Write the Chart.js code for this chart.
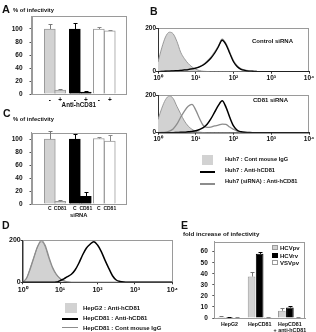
<!DOCTYPE html>
<html>
<head>
<meta charset="utf-8">
<script src="https://cdn.jsdelivr.net/npm/chart.js@4.4.0/dist/chart.umd.min.js"></script>
<style>
  html, body { margin: 0; padding: 0; background: #fff; }
  #fig { position: relative; width: 316px; height: 332px; overflow: hidden;
         font-family: "Liberation Sans", Arial, sans-serif; color: #111; }
  #fig canvas { position: absolute; }
  .txt { position: absolute; white-space: nowrap; line-height: 1; }
  .sw { position: absolute; box-sizing: border-box; }
</style>
</head>
<body>
<div id="fig">
  <canvas id="chartA" width="130" height="112" style="left:0;top:0"></canvas>
  <canvas id="chartC" width="130" height="112" style="left:0;top:110px"></canvas>
  <canvas id="chartB1" width="176" height="66" style="left:140px;top:20px"></canvas>
  <canvas id="chartB2" width="176" height="62" style="left:140px;top:85px"></canvas>
  <canvas id="chartD" width="180" height="70" style="left:0;top:230px"></canvas>
  <canvas id="chartE" width="131" height="102" style="left:185px;top:230px"></canvas>
</div>
<script>
// ---------- data ----------
// A: % of infectivity, without (-) / with (+) anti-hCD81
const labelsA = ['-', '+', '-', '+', '-', '+'];
const valuesA = [100, 6, 100, 3, 100, 97];
const errorsA = [7, 1.5, 9, 1, 3.5, 1.5];

// C: % of infectivity after control (C) or CD81 siRNA
const labelsC = ['C', 'CD81', 'C', 'CD81', 'C', 'CD81'];
const valuesC = [100, 4, 100, 12, 101, 97];
const errorsC = [13, 1.5, 8, 6, 2, 9];

// B / D: flow cytometry histograms, counts per fluorescence channel
const channels = [1, 1.26, 1.58, 2, 2.51, 3.16, 3.98, 5.01, 6.31, 7.94,
  10, 12.6, 15.8, 20, 25.1, 31.6, 39.8, 50.1, 63.1, 79.4,
  100, 126, 158, 200, 251, 316, 398, 501, 631, 794, 1000, 10000];
const decadeLabels = ['10⁰', '10¹', '10²', '10³', '10⁴'];

// B top: Control siRNA
const ctrlIgG   = [45, 110, 160, 182, 175, 140, 90, 60, 38, 22, 12, 5, 2, 1, 0, 0, 0, 0, 0, 0, 0, 0, 0, 0, 0, 0, 0, 0, 0, 0, 0, 0];
const ctrlAnti  = [0, 1, 2, 3, 4, 5, 6, 8, 10, 13, 17, 22, 31, 45, 62, 85, 115, 145, 125, 85, 46, 23, 11, 6, 3, 2, 1, 0, 0, 0, 0, 0];
const ctrlSiAnti = [0, 1, 2, 3, 4, 5, 6, 8, 11, 14, 18, 24, 33, 48, 66, 90, 118, 150, 130, 90, 50, 26, 13, 7, 4, 2, 1, 0, 0, 0, 0, 0];
// B bottom: CD81 siRNA
const kdIgG    = [70, 130, 175, 195, 182, 140, 100, 62, 35, 18, 8, 3, 1, 0, 0, 0, 0, 0, 0, 0, 0, 0, 0, 0, 0, 0, 0, 0, 0, 0, 0, 0];
const kdAnti   = [0, 0, 0, 0, 0, 1, 2, 3, 5, 7, 10, 17, 27, 45, 73, 109, 145, 169, 136, 82, 36, 13, 5, 2, 1, 0, 0, 0, 0, 0, 0, 0];
const kdSiAnti = [0, 1, 3, 8, 20, 45, 82, 115, 140, 150, 120, 75, 38, 28, 30, 36, 40, 46, 44, 30, 18, 8, 3, 1, 0, 0, 0, 0, 0, 0, 0, 0];

// D: HepG2 vs HepCD81
const hepG2Anti   = [3, 20, 67, 121, 168, 192, 168, 113, 66, 35, 16, 6, 2, 0, 0, 0, 0, 0, 0, 0, 0, 0, 0, 0, 0, 0, 0, 0, 0, 0, 0, 0];
const hepCD81Anti = [0, 0, 0, 0, 0, 0, 0, 0, 0, 1, 8, 16, 27, 38, 58, 90, 129, 161, 180, 192, 176, 145, 105, 66, 31, 11, 4, 1, 0, 0, 0, 0];
const hepCD81IgG  = [2, 18, 62, 118, 170, 198, 175, 120, 70, 38, 18, 7, 2, 0, 0, 0, 0, 0, 0, 0, 0, 0, 0, 0, 0, 0, 0, 0, 0, 0, 0, 0];

// E: fold increase of infectivity
const cellsE = ['HepG2', 'HepCD81', ['HepCD81', '+ anti-hCD81']];
const hcvpv = [1, 37.5, 6.5];
const hcvrv = [0.8, 58, 9.5];
const vsvpv = [0.5, 0.8, 0.7];
const hcvpvErr = [0.5, 4.5, 2.5];
const hcvrvErr = [0.3, 2, 1.5];
const vsvpvErr = [0.2, 0.2, 0.2];

// ---------- styles ----------
const GREY_FILL = '#d2d2d2';
const GREY_EDGE = '#9a9a9a';
const GREY_LINE = '#8c8c8c';
const barPos = [1, 2, 3.4, 4.45, 5.7, 6.75];   // x layout of the paired bars (A, C)
const barFill = [GREY_FILL, GREY_FILL, '#000', '#000', '#fff', '#fff'];
const barEdge = [GREY_EDGE, GREY_EDGE, '#000', '#000', GREY_EDGE, GREY_EDGE];
const errCol  = ['#777', '#777', '#000', '#000', '#888', '#888'];

Chart.defaults.font.family = '"Liberation Sans", Arial, sans-serif';
Chart.defaults.font.size = 6.5;
Chart.defaults.font.weight = 'bold';
Chart.defaults.color = '#111';

// grey box round the plot area
const framePlugin = {
  id: 'frame',
  beforeDraw(chart) {
    const { left, top, right, bottom } = chart.chartArea;
    const ctx = chart.ctx;
    ctx.save();
    ctx.strokeStyle = '#9a9a9a';
    ctx.lineWidth = 1;
    ctx.strokeRect(Math.round(left) + 0.5, Math.round(top) + 0.5,
      Math.round(right - left) - 1, Math.round(bottom - top));
    ctx.restore();
  }
};

// upward error bars, values kept on the dataset
const errorBarPlugin = {
  id: 'errorBars',
  afterDatasetsDraw(chart) {
    const ctx = chart.ctx;
    const y = chart.scales.y;
    ctx.save();
    ctx.lineWidth = 1;
    chart.data.datasets.forEach((ds, di) => {
      if (!ds.errors) return;
      chart.getDatasetMeta(di).data.forEach((bar, i) => {
        const raw = ds.data[i];
        const v = typeof raw === 'object' ? raw.y : raw;
        const yTop = Math.round(y.getPixelForValue(v + ds.errors[i])) + 0.5;
        const x = Math.round(bar.x) + 0.5;
        ctx.strokeStyle = Array.isArray(ds.errorColors) ? ds.errorColors[i] : ds.errorColors;
        ctx.beginPath();
        ctx.moveTo(x, bar.y);
        ctx.lineTo(x, yTop);
        ctx.moveTo(x - 2, yTop);
        ctx.lineTo(x + 2, yTop);
        ctx.stroke();
      });
    });
    ctx.restore();
  }
};

function pctChart(id, labels, values, errors, title, padTop, ymax, tickSize, titleSize) {
  return new Chart(document.getElementById(id), {
    type: 'bar',
    data: {
      datasets: [{
        data: values.map((v, i) => ({ x: barPos[i], y: v })),
        backgroundColor: barFill,
        borderColor: barEdge,
        borderWidth: 1,
        barThickness: 11,
        errors: errors,
        errorColors: errCol,
      }],
    },
    options: {
      animation: false,
      responsive: false,
      layout: { padding: { top: padTop, right: 4, left: 0, bottom: 0 } },
      plugins: { legend: { display: false }, tooltip: { enabled: false } },
      scales: {
        x: {
          type: 'linear', min: 0, max: 7.55,
          grid: { display: false, drawTicks: false },
          border: { color: '#9a9a9a' },
          afterBuildTicks: s => { s.ticks = barPos.map(v => ({ value: v })); },
          afterFit: s => { s.height = 18; },
          ticks: { autoSkip: false, maxRotation: 0, padding: 2, font: { size: tickSize },
                   callback: (v, i) => labels[i] },
          title: { display: true, text: title, font: { size: titleSize, weight: 'bold' }, padding: { top: 0, bottom: 3 } },
        },
        y: {
          min: 0, max: ymax,
          grid: { drawOnChartArea: false, tickLength: 2, color: '#555' },
          border: { color: '#9a9a9a' },
          afterBuildTicks: s => { s.ticks = [0, 20, 40, 60, 80, 100].map(v => ({ value: v })); },
          afterFit: s => { s.width = 31.5; },
          ticks: { padding: 7 },
        },
      },
    },
    plugins: [framePlugin, errorBarPlugin],
  });
}

function histChart(id, series, pad, yWidth, xHeight, tickSize, tickPad) {
  return new Chart(document.getElementById(id), {
    type: 'line',
    data: {
      datasets: series.map(s => ({
        data: channels.map((c, i) => ({ x: c, y: s.values[i] })),
        borderColor: s.color,
        borderWidth: s.width,
        backgroundColor: s.fill || 'transparent',
        fill: s.fill ? 'origin' : false,
        pointRadius: 0,
        cubicInterpolationMode: 'monotone',
        order: s.order,
      })),
    },
    options: {
      animation: false,
      responsive: false,
      layout: { padding: pad },
      plugins: { legend: { display: false }, tooltip: { enabled: false } },
      scales: {
        x: {
          type: 'logarithmic', min: 1, max: 10000,
          grid: { drawOnChartArea: false, tickLength: 2, color: '#333' },
          border: { color: '#333' },
          afterBuildTicks: s => { s.ticks = [1, 10, 100, 1000, 10000].map(v => ({ value: v })); },
          afterFit: s => { s.height = xHeight; },
          ticks: { autoSkip: false, maxRotation: 0, padding: tickPad, font: { size: tickSize },
                   callback: (v, i) => decadeLabels[i] },
        },
        y: {
          min: 0, max: 200,
          grid: { drawOnChartArea: false, tickLength: 2, color: '#333' },
          border: { color: '#333' },
          afterBuildTicks: s => { s.ticks = [0, 200].map(v => ({ value: v })); },
          afterFit: s => { s.width = yWidth; },
          ticks: { padding: 0, font: { size: tickSize } },
        },
      },
    },
    plugins: [framePlugin],
  });
}

// ---------- panels ----------
pctChart('chartA', labelsA, valuesA, errorsA, 'Anti-hCD81', 16, 120, 6.5, 6.3);
pctChart('chartC', labelsC, valuesC, errorsC, 'siRNA', 22.7, 110, 5, 5.8);

histChart('chartB1', [
  { values: ctrlIgG, color: GREY_EDGE, width: 1, fill: GREY_FILL, order: 3 },
  { values: ctrlSiAnti, color: GREY_LINE, width: 1.3, order: 2 },
  { values: ctrlAnti, color: '#000', width: 1.3, order: 1 },
], { top: 8.3, right: 7, left: 0, bottom: 0 }, 18, 14.3, 6.5, 1);

histChart('chartB2', [
  { values: kdIgG, color: GREY_EDGE, width: 1, fill: GREY_FILL, order: 3 },
  { values: kdSiAnti, color: GREY_LINE, width: 1.3, order: 2 },
  { values: kdAnti, color: '#000', width: 1.5, order: 1 },
], { top: 10, right: 7, left: 0, bottom: 0 }, 18, 14.3, 6.5, 1);

histChart('chartD', [
  { values: hepG2Anti, color: GREY_EDGE, width: 1, fill: GREY_FILL, order: 3 },
  { values: hepCD81IgG, color: GREY_LINE, width: 1.2, order: 2 },
  { values: hepCD81Anti, color: '#000', width: 1.5, order: 1 },
], { top: 10, right: 6, left: 0, bottom: 0 }, 22.7, 17.7, 7, 2);

new Chart(document.getElementById('chartE'), {
  type: 'bar',
  data: {
    labels: cellsE,
    datasets: [
      { label: 'HCVpv', data: hcvpv, backgroundColor: GREY_FILL, borderColor: GREY_EDGE, borderWidth: 1,
        errors: hcvpvErr, errorColors: '#777' },
      { label: 'HCVrv', data: hcvrv, backgroundColor: '#000', borderColor: '#000', borderWidth: 1,
        errors: hcvrvErr, errorColors: '#000' },
      { label: 'VSVpv', data: vsvpv, backgroundColor: '#fff', borderColor: GREY_EDGE, borderWidth: 1,
        errors: vsvpvErr, errorColors: '#888' },
    ],
  },
  options: {
    animation: false,
    responsive: false,
    layout: { padding: { top: 11.7, right: 11, left: 0, bottom: 0 } },
    datasets: { bar: { categoryPercentage: 0.8, barPercentage: 0.95 } },
    plugins: { legend: { display: false }, tooltip: { enabled: false } },
    scales: {
      x: {
        grid: { display: false, drawTicks: false },
        border: { color: '#9a9a9a' },
        afterFit: s => { s.height = 14; },
        ticks: { autoSkip: false, maxRotation: 0, padding: 3, font: { size: 5.3 } },
      },
      y: {
        min: 0, max: 69,
        grid: { drawOnChartArea: false, tickLength: 2, color: '#555' },
        border: { color: '#9a9a9a' },
        afterBuildTicks: s => { s.ticks = [0, 10, 20, 30, 40, 50, 60].map(v => ({ value: v })); },
        afterFit: s => { s.width = 29.3; },
        ticks: { padding: 4.5 },
      },
    },
  },
  plugins: [framePlugin, errorBarPlugin],
});

// ---------- text and legends ----------
const fig = document.getElementById('fig');
// [text, left, baseline, size, weight]
const textLayout = [
  ['A', 2, 13, 11, 'bold'],
  ['% of infectivity', 13, 12.5, 5.8, 'bold'],
  ['B', 150, 15, 10.5, 'bold'],
  ['Control siRNA', 252, 43.3, 6, 'bold'],
  ['CD81 siRNA', 253, 102.5, 6, 'bold'],
  ['C', 3, 116.5, 10.5, 'bold'],
  ['% of infectivity', 13, 122, 5.8, 'bold'],
  ['Huh7 : Cont mouse IgG', 225, 161.5, 5.7, 'bold'],
  ['Huh7 : Anti-hCD81', 225, 173, 5.7, 'bold'],
  ['Huh7 (siRNA) : Anti-hCD81', 225, 183.5, 5.7, 'bold'],
  ['D', 2, 228.5, 10.5, 'bold'],
  ['E', 181, 228.5, 10.5, 'bold'],
  ['fold increase of infectivity', 183, 236.5, 6.2, 'bold'],
  ['HCVpv', 280, 250.3, 6, 'bold'],
  ['HCVrv', 280, 257.8, 6, 'bold'],
  ['VSVpv', 280, 265.3, 6, 'bold'],
  ['HepG2 : Anti-hCD81', 83, 310.5, 6, 'bold'],
  ['HepCD81 : Anti-hCD81', 83, 320.5, 6, 'bold'],
  ['HepCD81 : Cont mouse IgG', 83, 330, 6, 'bold'],
];
textLayout.forEach(([t, x, base, size, weight]) => {
  const d = document.createElement('div');
  d.className = 'txt';
  d.textContent = t;
  d.style.left = x + 'px';
  d.style.top = (base - 0.846 * size) + 'px';
  d.style.fontSize = size + 'px';
  d.style.fontWeight = weight;
  fig.appendChild(d);
});

// legend swatches: [left, top, width, height, background, border]
const swatches = [
  [202, 155, 11, 10, GREY_FILL, 'none'],
  [200, 171.3, 15, 2, '#000', 'none'],
  [200, 183.3, 15, 1.5, GREY_LINE, 'none'],
  [272.3, 245, 6, 5, GREY_FILL, '1px solid ' + GREY_EDGE],
  [272.3, 252.5, 6, 5, '#000', 'none'],
  [272.3, 260, 6, 5, '#fff', '1px solid ' + GREY_EDGE],
  [65, 303, 12, 9.5, GREY_FILL, 'none'],
  [62, 317.7, 16, 2, '#000', 'none'],
  [62, 326.5, 16, 1.5, GREY_LINE, 'none'],
];
swatches.forEach(([x, y, w, h, bg, border]) => {
  const s = document.createElement('div');
  s.className = 'sw';
  Object.assign(s.style, { left: x + 'px', top: y + 'px', width: w + 'px', height: h + 'px',
    background: bg, border: border });
  fig.appendChild(s);
});
</script>
</body>
</html>
